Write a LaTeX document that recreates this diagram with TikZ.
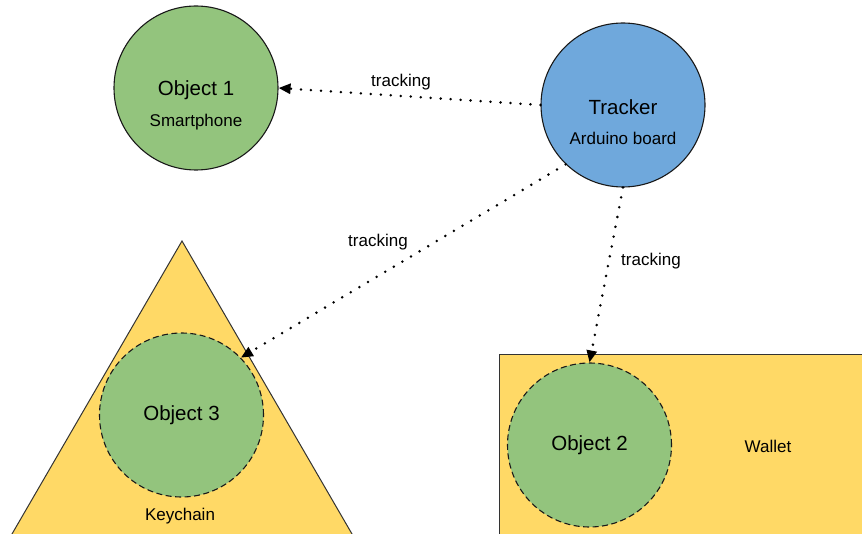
\documentclass[tikz,border=0pt]{standalone}
\usepackage{fontspec}
\setmainfont{Liberation Sans}
\usetikzlibrary{arrows.meta}
\definecolor{objgreen}{HTML}{93C47D}
\definecolor{trkblue}{HTML}{6FA8DC}
\definecolor{holdyellow}{HTML}{FFD966}
\tikzset{
  big/.style={font=\fontsize{20.5}{24}\selectfont},
  small/.style={font=\fontsize{17}{20}\selectfont},
  objcirc/.style={circle, minimum size=164pt, inner sep=0pt, fill=objgreen, draw=black!90, line width=1.1pt, big},
  dashcirc/.style={objcirc, dash pattern=on 6pt off 3.5pt},
  trkcirc/.style={objcirc, fill=trkblue},
  holder/.style={fill=holdyellow, draw=black!80, line width=1pt},
  trackline/.style={line width=2.8pt, line cap=round, dash pattern=on 0pt off 10pt,
    -{Triangle[length=12pt,width=10pt,line cap=butt]}},
  lbl/.style={small, inner sep=0pt}
}
\begin{document}
\begin{tikzpicture}[x=1pt,y=-1pt]
\useasboundingbox (0,0) rectangle (862,534);
\clip (0,0) rectangle (862,534);
% holders
\path[holder] (182,241) -- (2.7,550) -- (361.3,550) -- cycle;
\path[holder] (499,355) rectangle (880,560);
% nodes
\node[objcirc] (obj1) at (196,88) {};
\node[big] (obj1t) at (196,90) {Object 1};
\node[lbl] (obj1s) at (196,122) {Smartphone};
\node[trkcirc] (trk) at (623,105) {};
\node[big] (trkt) at (623,107) {Tracker};
\node[lbl] (trks) at (623,138) {Arduino board};
\node[dashcirc] (obj3) at (181.5,415) {Object 3};
\node[dashcirc] (obj2) at (589.5,445) {Object 2};
\node[lbl] (wallet) at (768,446) {Wallet};
\node[lbl] (keych) at (180,516) {Keychain};
% connectors
\draw[trackline] (trk.west) -- (obj1.east);
\draw[trackline] (trk.226) -- (obj3.44);
\draw[trackline] (trk.south) -- (obj2.north);
\node[lbl] (l1) at (401,82) {tracking};
\node[lbl] (l2) at (378,242) {tracking};
\node[lbl] (l3) at (651,261) {tracking};
\end{tikzpicture}
\end{document}
